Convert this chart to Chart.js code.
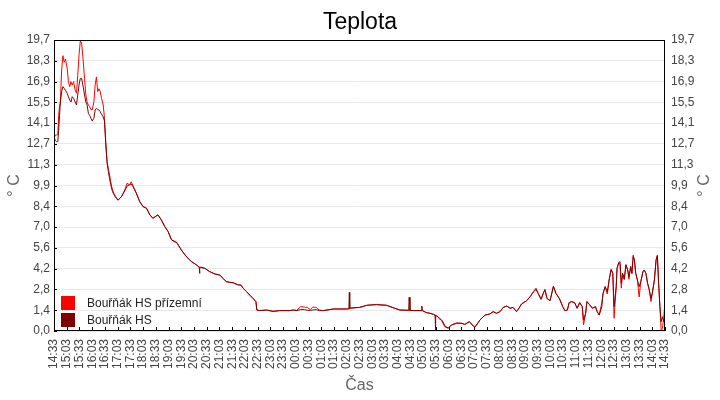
<!DOCTYPE html>
<html>
<head>
<meta charset="utf-8">
<title>Teplota</title>
<script src="https://cdn.jsdelivr.net/npm/chart.js@4.4.1/dist/chart.umd.min.js"></script>
<style>
  html, body { margin: 0; padding: 0; background: #fff; }
  #wrap { width: 720px; height: 400px; }
</style>
</head>
<body>
<div id="wrap"><canvas id="myChart" width="720" height="400"></canvas></div>
<script>
// minutes after 14:33
const times = [0,3,6,9,11,13,15,18,21,24,27,31,34,37,40,43,46,50,53,56,59,62,65,68,72,75,78,81,84,87,90,94,97,100,103,106,109,112,116,119,122,125,128,131,135,138,141,
  145,151,159,167,172,178,182,186,190,194,202,210,218,226,233,241,245,253,261,269,277,283,289,300,312,324,336,342,343,344,355,367,379,391,398,406,414,422,434,440,446,454,461,469,476,478,485,
  501,516,532,556,564,572,581,590,597,604,610,618,625,635,658,689,695,696,697,699,721,737,760,784,799,815,836,837,839,847,866,867,868,878,886,894,898,899,900,905,909,913,917,921,929,937,949,961,968,979,988,992,
  1004,1016,1027,1035,1043,1051,1059,1067,1075,1082,1090,1094,1102,1114,1122,1130,1136,1141,1148,1153,1157,1162,1169,1177,1183,1191,1199,1204,1210,1214,1220,1227,1233,1239,1245,1248,1253,1256,1263,1269,1276,1280,1285,1291,1294,1299,
  1304,1309,1313,1317,1320,1325,1327,1331,1334,1337,1340,1344,1348,1352,1355,1359,1362,1365,1368,1371,1375,1379,1383,1388,1391,1395,1399,1403,1407,1410,1415,1419,1422,1425,1428,1431,1434,1437,1440];

// Bouřňák HS přízemní
const groundTemp = [13.45,13.2,13.27,13.3,14.6,15.2,15.5,17.67,18.64,18.2,18.4,17.8,16.88,16.54,16.88,16.65,16.88,16.3,16.1,17.3,18.7,19.63,19.5,18.57,17.1,15.98,15.5,15.3,15.19,15.0,14.96,15.5,16.66,17.2,16.2,16.4,16.2,15.75,15.3,14.4,12.6,11.46,11.0,10.56,9.88,9.55,9.32,
  9.1,8.87,9.1,9.55,10.0,9.9,10.1,9.85,9.6,9.33,8.76,8.42,8.31,7.86,7.63,7.79,7.86,7.52,7.07,6.73,6.17,6.1,6.0,5.49,5.03,4.7,4.47,4.33,4.31,4.33,4.25,4.02,3.86,3.79,3.57,3.34,3.3,3.27,3.12,3.12,2.89,2.66,2.44,2.21,1.98,1.42,1.38,
  1.42,1.33,1.38,1.38,1.42,1.4,1.65,1.62,1.6,1.45,1.62,1.6,1.42,1.38,1.49,1.49,1.5,1.5,1.52,1.55,1.6,1.74,1.8,1.74,1.58,1.42,1.4,1.4,1.4,1.38,1.38,1.4,1.38,1.24,1.2,1.13,1.08,1.05,1.05,0.97,0.79,0.75,0.5,0.29,0.18,0.41,0.55,0.52,0.45,0.63,0.34,0.25,
  0.75,1.08,1.15,1.31,1.2,1.31,1.6,1.69,1.54,1.6,1.31,1.46,1.83,2.05,2.32,2.66,2.9,2.55,2.15,2.55,2.8,2.2,2.05,3.05,2.55,2.2,1.65,1.38,1.42,1.92,1.99,1.92,1.54,1.92,1.65,0.41,1.2,1.99,1.76,1.54,1.65,1.31,1.08,1.9,2.55,3.0,
  2.5,3.57,4.2,3.9,0.86,3.0,4.25,4.63,4.5,2.9,3.9,3.5,4.5,4.13,3.5,4.36,3.9,5.15,4.8,3.9,3.45,2.3,3.34,4.02,4.13,3.9,3.23,2.78,1.99,2.55,3.45,4.81,5.15,3.23,1.65,0.0,0.2,0.9,1.98];

// Bouřňák HS
const hsTemp = [13.16,12.9,12.82,12.82,13.6,14.6,15.5,16.2,16.54,16.43,16.3,16.1,15.86,15.64,15.5,15.86,15.75,15.5,15.3,15.98,16.66,17.1,17.1,16.66,15.98,15.5,15.3,14.74,14.6,14.4,14.22,14.4,14.96,15.07,15.0,14.96,14.85,14.67,14.5,14.2,12.8,11.46,10.8,10.3,9.75,9.43,9.25,
  9.05,8.85,9.1,9.5,9.8,9.9,9.96,9.78,9.55,9.33,8.76,8.42,8.31,7.86,7.63,7.79,7.86,7.52,7.07,6.73,6.17,6.05,6.0,5.49,5.03,4.7,4.47,4.33,3.9,4.31,4.25,4.02,3.86,3.79,3.57,3.34,3.3,3.27,3.12,3.12,2.89,2.66,2.44,2.21,1.98,1.42,1.38,
  1.42,1.33,1.38,1.38,1.42,1.38,1.45,1.45,1.4,1.4,1.42,1.45,1.38,1.38,1.49,1.49,1.5,2.62,1.52,1.55,1.6,1.74,1.78,1.74,1.58,1.42,1.4,2.28,1.4,1.38,1.38,1.69,1.38,1.24,1.2,1.13,1.08,0.05,1.05,0.97,0.85,0.75,0.6,0.35,0.2,0.41,0.52,0.52,0.45,0.63,0.34,0.25,
  0.75,1.08,1.15,1.31,1.2,1.31,1.6,1.69,1.54,1.6,1.31,1.46,1.83,2.05,2.32,2.66,2.8,2.55,2.15,2.55,2.8,2.2,2.05,3.0,2.55,2.2,1.65,1.38,1.42,1.92,1.99,1.92,1.54,1.92,1.65,0.75,1.2,1.99,1.76,1.54,1.65,1.31,1.08,1.65,2.55,3.0,
  2.66,3.57,4.13,3.9,1.65,3.0,4.25,4.63,4.7,3.23,3.9,3.5,4.47,4.13,3.68,4.36,3.9,5.03,4.8,3.9,3.45,3.0,3.34,4.02,4.13,3.9,3.23,2.78,2.21,2.55,3.45,4.81,5.08,3.23,1.65,0.63,0.97,0.63,0.75];

const yMax = 19.7;
const yTickLabels = ['0,0','1,4','2,8','4,2','5,6','7,0','8,4','9,9','11,3','12,7','14,1','15,5','16,9','18,3','19,7'];
const xTickLabels = ['14:33','15:03','15:33','16:03','16:33','17:03','17:33','18:03','18:33','19:03','19:33','20:03','20:33','21:03','21:33','22:03','22:33','23:03','23:33',
  '00:03','00:33','01:03','01:33','02:03','02:33','03:03','03:33','04:03','04:33','05:03','05:33','06:03','06:33','07:03','07:33','08:03','08:33','09:03','09:33',
  '10:03','10:33','11:03','11:33','12:03','12:33','13:03','13:33','14:03','14:33'];

const FONT = "'Liberation Sans', Arial, sans-serif";

// legend, frame, inner ticks and right axis title
const decor = {
  id: 'decor',
  afterDatasetsDraw(chart) {
    const ctx = chart.ctx;
    const a = chart.chartArea;
    ctx.save();
    // frame
    ctx.strokeStyle = '#000';
    ctx.lineWidth = 1;
    ctx.strokeRect(a.left + 0.5, a.top + 0.5, a.right - a.left - 1, a.bottom - a.top - 1);
    // x ticks pointing up
    ctx.beginPath();
    chart.scales.x.ticks.forEach((t) => {
      const px = Math.round(chart.scales.x.getPixelForValue(t.value)) + 0.5;
      ctx.moveTo(px, a.bottom);
      ctx.lineTo(px, a.bottom - 4);
    });
    // left y ticks
    chart.scales.y.ticks.forEach((t) => {
      const py = Math.round(chart.scales.y.getPixelForValue(t.value)) + 0.5;
      ctx.moveTo(a.left, py);
      ctx.lineTo(a.left + 3, py);
    });
    ctx.stroke();

    // legend inside the plot
    ctx.font = '12px ' + FONT;
    ctx.textBaseline = 'middle';
    ctx.textAlign = 'left';
    chart.data.datasets.forEach((ds, i) => {
      const bx = a.left + 7;
      const by = a.bottom - 35 + i * 17;
      ctx.fillStyle = ds.borderColor;
      ctx.fillRect(bx, by, 14, 14);
      ctx.fillStyle = '#222';
      ctx.fillText(ds.label, bx + 26, by + 7.5);
    });

    // right axis title
    ctx.fillStyle = '#666';
    ctx.font = '16px ' + FONT;
    ctx.textAlign = 'center';
    ctx.translate(705, (a.top + a.bottom) / 2);
    ctx.rotate(-Math.PI / 2);
    ctx.fillText('° C', 0, 0);
    ctx.restore();
  }
};

const yTicks = {
  color: '#444',
  font: { size: 12, family: FONT },
  autoSkip: false,
  callback: (v, i) => yTickLabels[i]
};

const makeChart = () => {
  const chart1 = document.getElementById('myChart');

  new Chart(chart1, {
    type: 'line',
    data: {
      datasets: [
        {
          label: 'Bouřňák HS přízemní',
          data: times.map((t, i) => ({ x: t, y: groundTemp[i] })),
          borderColor: '#ff0000',
          borderWidth: 1,
          pointRadius: 0,
          order: 1
        },
        {
          label: 'Bouřňák HS',
          data: times.map((t, i) => ({ x: t, y: hsTemp[i] })),
          borderColor: '#800000',
          borderWidth: 1,
          pointRadius: 0,
          order: 0
        }
      ]
    },
    options: {
      responsive: false,
      animation: false,
      events: [],
      layout: { padding: 0 },
      plugins: {
        legend: { display: false },
        tooltip: { enabled: false },
        title: {
          display: true,
          text: 'Teplota',
          color: '#000',
          font: { size: 23, family: FONT, weight: 'normal', lineHeight: 1.2 },
          padding: { top: 9, bottom: 3.4 }
        }
      },
      scales: {
        x: {
          type: 'linear',
          min: 0,
          max: 1440,
          afterBuildTicks: (s) => { s.ticks = xTickLabels.map((l, i) => ({ value: i * 30 })); },
          afterFit: (s) => { s.height = 69; },
          grid: { display: false, drawTicks: false },
          border: { display: false },
          ticks: {
            color: '#444',
            font: { size: 12, family: FONT },
            autoSkip: false,
            minRotation: 90,
            maxRotation: 90,
            padding: 8,
            callback: (v, i) => xTickLabels[i]
          },
          title: {
            display: true,
            text: 'Čas',
            color: '#666',
            font: { size: 16, family: FONT },
            padding: { top: 0, bottom: 5 }
          }
        },
        y: {
          position: 'left',
          min: 0,
          max: yMax,
          afterBuildTicks: (s) => { s.ticks = yTickLabels.map((l, i) => ({ value: i * yMax / 14 })); },
          afterFit: (s) => { s.width = 54; },
          grid: { color: '#e8e8e8', drawTicks: false },
          border: { display: false },
          ticks: Object.assign({ padding: 4 }, yTicks),
          title: {
            display: true,
            text: '° C',
            color: '#666',
            font: { size: 16, family: FONT },
            padding: { top: 5, bottom: 0 }
          }
        },
        y2: {
          position: 'right',
          min: 0,
          max: yMax,
          afterBuildTicks: (s) => { s.ticks = yTickLabels.map((l, i) => ({ value: i * yMax / 14 })); },
          afterFit: (s) => { s.width = 55; },
          grid: { display: false, drawTicks: false },
          border: { display: false },
          ticks: Object.assign({ padding: 6 }, yTicks)
        }
      }
    },
    plugins: [decor]
  });
};

const init = () => {
  makeChart();
};

if (window.addEventListener) {
  window.addEventListener('load', init, false);
}
</script>
</body>
</html>
